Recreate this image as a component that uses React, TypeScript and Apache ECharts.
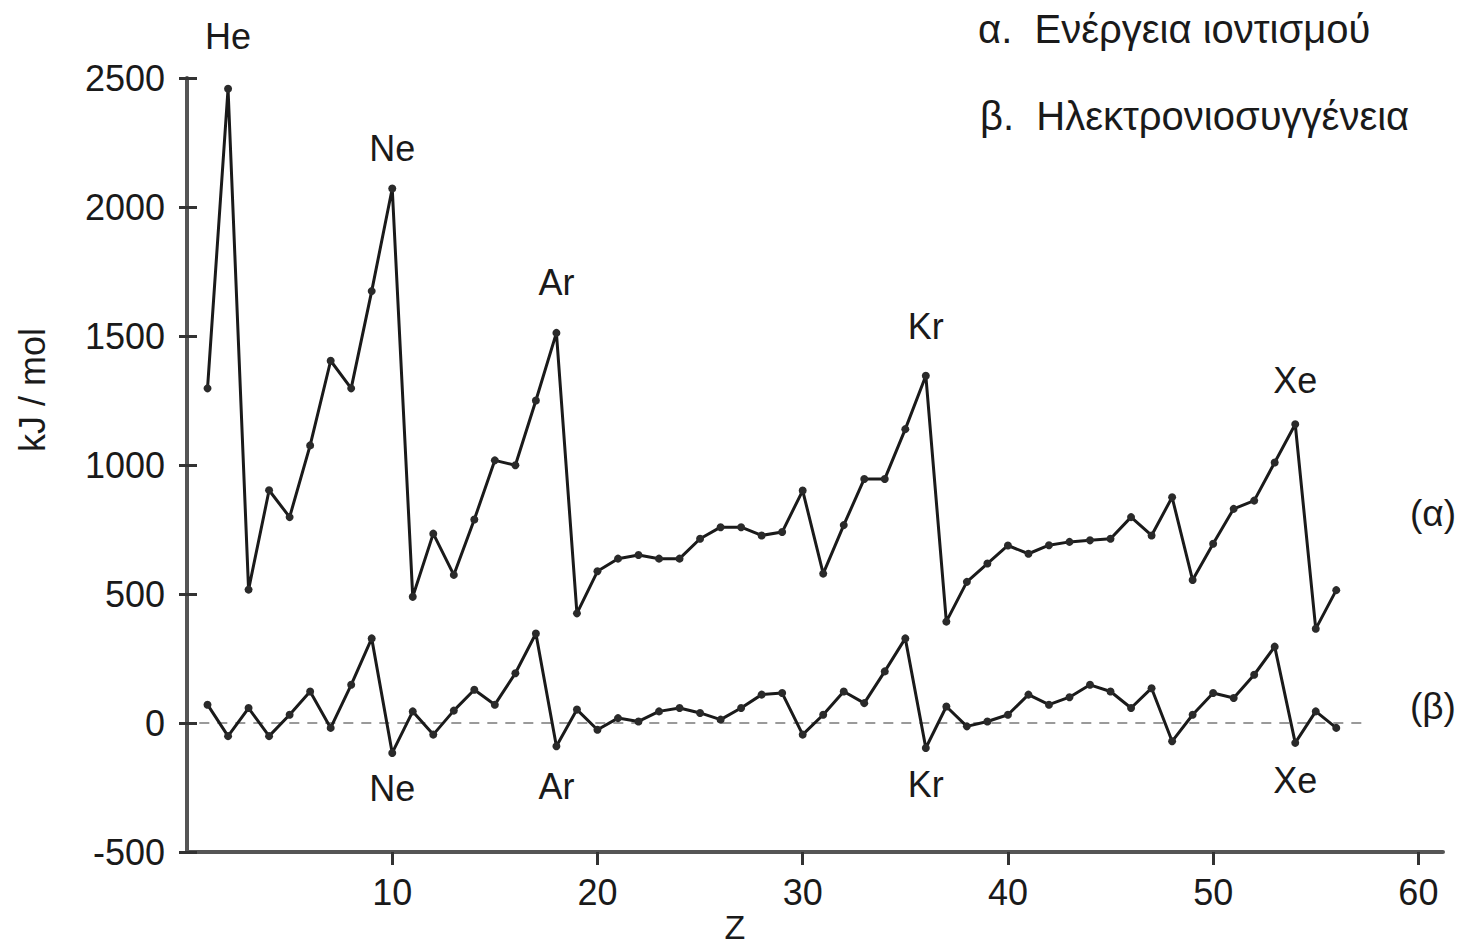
import React, { useEffect, useRef } from 'react';
import * as echarts from 'echarts';

// Atomic number Z
const atomicNumbers = [
  1, 2, 3, 4, 5, 6, 7, 8, 9, 10,
  11, 12, 13, 14, 15, 16, 17, 18, 19, 20,
  21, 22, 23, 24, 25, 26, 27, 28, 29, 30,
  31, 32, 33, 34, 35, 36, 37, 38, 39, 40,
  41, 42, 43, 44, 45, 46, 47, 48, 49, 50,
  51, 52, 53, 54, 55, 56,
];

// (α) Ενέργεια ιοντισμού, kJ/mol
const ionizationEnergy = [
  1297, 2458, 517, 902, 798, 1076, 1404, 1297, 1674, 2072,
  489, 734, 574, 789, 1018, 999, 1250, 1512, 425, 588,
  637, 651, 637, 637, 714, 759, 759, 727, 740, 901,
  579, 767, 946, 946, 1139, 1346, 393, 547, 618, 688,
  656, 689, 702, 708, 714, 798, 727, 875, 554, 695,
  830, 862, 1010, 1158, 365, 515,
];

// (β) Ηλεκτρονιοσυγγένεια, kJ/mol
const electronAffinity = [
  71, -51, 58, -51, 32, 122, -19, 148, 328, -116,
  45, -45, 48, 129, 71, 193, 347, -90, 52, -26,
  19, 6, 45, 58, 39, 13, 58, 110, 116, -45,
  32, 122, 77, 200, 328, -97, 64, -13, 6, 32,
  110, 71, 100, 148, 122, 58, 135, -71, 32, 116,
  97, 187, 296, -77, 45, -19,
];

// Noble-gas annotations
const peakZAlpha = [2, 10, 18, 36, 54];
const peakNamesAlpha = ['He', 'Ne', 'Ar', 'Kr', 'Xe'];
const peakZBeta = [10, 18, 36, 54];
const peakNamesBeta = ['Ne', 'Ar', 'Kr', 'Xe'];

// Dashed zero reference line extent (Z)
const zeroLineZ = [0.6, 57.3];

const xTickValues = [10, 20, 30, 40, 50, 60];

const legendTexts = ['α.  Ενέργεια ιοντισμού', 'β.  Ηλεκτρονιοσυγγένεια'];
const seriesTags = ['(α)', '(β)'];
const yAxisTitle = 'kJ / mol';
const xAxisTitle = 'Z';

const FONT = '"Liberation Sans", Arial, sans-serif';
const TEXT = '#1a1a1a';

export default function App() {
  const ref = useRef<HTMLDivElement>(null);

  useEffect(() => {
    if (!ref.current) return;
    const chart = echarts.init(ref.current, undefined, { renderer: 'svg' });

    const alphaDist: Record<number, number> = { 2: 30, 10: 18, 18: 28, 36: 27, 54: 22 };
    const betaDist: Record<number, number> = { 10: 14, 18: 18, 36: 14, 54: 16 };

    const alphaData = atomicNumbers.map((z, i) => {
      const k = peakZAlpha.indexOf(z);
      if (k < 0) return [z, ionizationEnergy[i]];
      return {
        value: [z, ionizationEnergy[i]],
        label: {
          show: true,
          position: 'top',
          distance: alphaDist[z],
          formatter: peakNamesAlpha[k],
          fontSize: 36,
          fontFamily: FONT,
          color: TEXT,
        },
      };
    });

    const betaData = atomicNumbers.map((z, i) => {
      const k = peakZBeta.indexOf(z);
      if (k < 0) return [z, electronAffinity[i]];
      return {
        value: [z, electronAffinity[i]],
        label: {
          show: true,
          position: 'bottom',
          distance: betaDist[z],
          formatter: peakNamesBeta[k],
          fontSize: 36,
          fontFamily: FONT,
          color: TEXT,
        },
      };
    });

    const gridRect = { left: 187, right: 17, top: 78, bottom: 98 };

    const option: any = {
      animation: false,
      backgroundColor: '#ffffff',
      grid: [
        { ...gridRect },
        { ...gridRect },
      ],
      xAxis: [
        {
          type: 'value',
          gridIndex: 0,
          min: 0,
          max: 61.2,
          interval: 10,
          splitLine: { show: false },
          axisLine: { show: true, onZero: false, lineStyle: { color: '#555', width: 4 } },
          axisTick: {
            show: true,
            customValues: xTickValues,
            length: 13,
            lineStyle: { color: '#333', width: 3 },
          },
          axisLabel: {
            customValues: xTickValues,
            fontSize: 36,
            fontFamily: FONT,
            color: TEXT,
            margin: 22,
          },
        },
        {
          type: 'value',
          gridIndex: 1,
          min: 0,
          max: 61.2,
          show: false,
        },
      ],
      yAxis: [
        {
          type: 'value',
          gridIndex: 0,
          min: -500,
          max: 2500,
          interval: 500,
          splitLine: { show: false },
          axisLine: { show: true, onZero: false, lineStyle: { color: '#555', width: 4 } },
          axisTick: { show: true, length: 8, lineStyle: { color: '#333', width: 3 } },
          axisLabel: {
            fontSize: 36,
            fontFamily: FONT,
            color: TEXT,
            margin: 22,
            formatter: (v: number) => String(v),
          },
        },
        {
          type: 'value',
          gridIndex: 1,
          min: -500,
          max: 2500,
          interval: 500,
          splitLine: { show: false },
          axisLine: { show: false },
          axisTick: { show: true, inside: true, length: 10, lineStyle: { color: '#333', width: 3 } },
          axisLabel: { show: false },
        },
      ],
      series: [
        {
          name: 'zero',
          type: 'line',
          xAxisIndex: 0,
          yAxisIndex: 0,
          data: zeroLineZ.map((z) => [z, 0]),
          symbol: 'none',
          lineStyle: { color: '#9a9a9a', width: 2, type: [10, 8] },
          silent: true,
          z: 1,
        },
        {
          name: legendTexts[0],
          type: 'line',
          xAxisIndex: 0,
          yAxisIndex: 0,
          data: alphaData,
          symbol: 'circle',
          symbolSize: 8,
          itemStyle: { color: '#2a2a2a' },
          lineStyle: { color: '#1a1a1a', width: 3 },
          z: 3,
        },
        {
          name: legendTexts[1],
          type: 'line',
          xAxisIndex: 0,
          yAxisIndex: 0,
          data: betaData,
          symbol: 'circle',
          symbolSize: 8,
          itemStyle: { color: '#2a2a2a' },
          lineStyle: { color: '#1a1a1a', width: 3 },
          z: 3,
        },
      ],
      graphic: [
        {
          type: 'text',
          left: 978,
          top: 9,
          style: { text: legendTexts[0], fontSize: 40, fontFamily: FONT, fill: TEXT },
        },
        {
          type: 'text',
          left: 980,
          top: 96,
          style: { text: legendTexts[1], fontSize: 40, fontFamily: FONT, fill: TEXT },
        },
        {
          type: 'text',
          left: 1410,
          top: 495,
          style: { text: seriesTags[0], fontSize: 37, fontFamily: FONT, fill: TEXT },
        },
        {
          type: 'text',
          left: 1410,
          top: 688,
          style: { text: seriesTags[1], fontSize: 37, fontFamily: FONT, fill: TEXT },
        },
        {
          type: 'text',
          x: 32,
          y: 390,
          rotation: Math.PI / 2,
          style: {
            text: yAxisTitle,
            fontSize: 36,
            fontFamily: FONT,
            fill: TEXT,
            align: 'center',
            verticalAlign: 'middle',
          },
        },
        {
          type: 'text',
          x: 735,
          y: 927,
          style: {
            text: xAxisTitle,
            fontSize: 34,
            fontFamily: FONT,
            fill: TEXT,
            align: 'center',
            verticalAlign: 'middle',
          },
        },
      ],
    };

    chart.setOption(option);
    return () => chart.dispose();
  }, []);

  return (
    <div
      ref={ref}
      style={{ position: 'absolute', left: 0, top: 0, width: 1460, height: 950 }}
    />
  );
}
